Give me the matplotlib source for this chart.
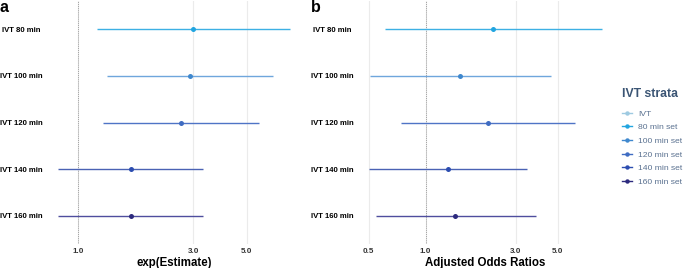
import matplotlib.pyplot as plt
from matplotlib.lines import Line2D
from matplotlib.ticker import FixedLocator, FixedFormatter, NullLocator

plt.rcParams['font.family'] = ['Liberation Sans', 'DejaVu Sans']

# ===== DATA =====
strata = ["IVT 80 min", "IVT 100 min", "IVT 120 min", "IVT 140 min", "IVT 160 min"]

a_est = [3.00, 2.90, 2.66, 1.65, 1.65]
a_lo = [1.19, 1.31, 1.26, 0.82, 0.82]
a_hi = [7.58, 6.42, 5.61, 3.30, 3.30]

b_est = [2.28, 1.53, 2.14, 1.31, 1.44]
b_lo = [0.61, 0.51, 0.74, 0.50, 0.55]
b_hi = [8.55, 4.59, 6.18, 3.44, 3.84]

a_ticks = [1.0, 3.0, 5.0]
b_ticks = [0.5, 1.0, 3.0, 5.0]

legend_labels = ["IVT", "80 min set", "100 min set", "120 min set", "140 min set", "160 min set"]

# ===== COLORS =====
legend_colors = ["#9ECAE1", "#22A5E0", "#3F88CE", "#3F6CC2", "#2C4DB0", "#2D2A7E"]
line_colors = ["#3DB0E4", "#6FA6DC", "#4F74C6", "#4A62B4", "#4F4E9E"]
point_colors = legend_colors[1:]

fig = plt.figure(figsize=(6.85, 2.68), dpi=100)
ax_a = fig.add_axes([46 / 685, 1 - 243.6 / 268, 256 / 685, 242.2 / 268])
ax_b = fig.add_axes([357 / 685, 1 - 243.6 / 268, 256.3 / 685, 242.2 / 268])


def draw_panel(ax, est, lo, hi, ticks, xlabel):
    ypos = list(range(1, len(strata) + 1))
    for i, y in enumerate(ypos):
        ax.plot([lo[i], hi[i]], [y, y], color=line_colors[i], lw=1.0, solid_capstyle="butt", zorder=3)
        ax.plot(est[i], y, "o", color=point_colors[i], ms=3.6, mec="none", zorder=4)
    ax.set_xscale("log")
    ax.margins(x=0.05)
    ax.set_ylim(len(strata) + 0.6, 0.4)
    ax.axvline(1.0, color="#8A8A8A", ls=(0, (1, 1.3)), lw=0.6, zorder=2)
    ax.xaxis.set_major_locator(FixedLocator(ticks))
    ax.xaxis.set_major_formatter(FixedFormatter([f"{t:.1f}" for t in ticks]))
    ax.xaxis.set_minor_locator(NullLocator())
    ax.grid(axis="x", color="#EBEBEB", lw=0.8, zorder=1)
    ax.set_yticks(ypos)
    ax.set_yticklabels(strata, fontsize=5.6, fontweight="bold", ha="center")
    ax.tick_params(axis="y", length=0, pad=17.5)
    ax.tick_params(axis="x", length=0, pad=3, labelsize=5.8, labelcolor="#333333")
    for lbl in ax.get_xticklabels():
        lbl.set_fontweight("bold")
    ax.set_xlabel(xlabel, fontsize=8.3, fontweight="bold", labelpad=1.5)
    for spine in ax.spines.values():
        spine.set_visible(False)


draw_panel(ax_a, a_est, a_lo, a_hi, a_ticks, "exp(Estimate)")
draw_panel(ax_b, b_est, b_lo, b_hi, b_ticks, "Adjusted Odds Ratios")

fig.text(0.0, 1 - 8 / 268, "a", fontsize=11.5, fontweight="bold", va="center", ha="left")
fig.text(311 / 685, 1 - 8 / 268, "b", fontsize=11.5, fontweight="bold", va="center", ha="left")

# ===== LEGEND =====
handles = [
    Line2D([0], [0], color=c, marker="o", ms=3.2, lw=1.0, mec="none")
    for c in legend_colors
]
leg = fig.legend(
    handles, legend_labels, title="IVT strata",
    loc="upper left", bbox_to_anchor=(622 / 685, 1 - 88 / 268),
    frameon=False, fontsize=6.1, handlelength=1.2, handletextpad=0.7,
    labelspacing=0.68, borderaxespad=0, borderpad=0,
)
leg.get_title().set_fontweight("bold")
leg.get_title().set_fontsize(8.8)
leg.get_title().set_color("#3B5574")
leg._legend_box.align = "left"
leg._legend_box.sep = 7
for t in leg.get_texts():
    t.set_color("#5A7190")

fig.savefig("out.png", dpi=100)
